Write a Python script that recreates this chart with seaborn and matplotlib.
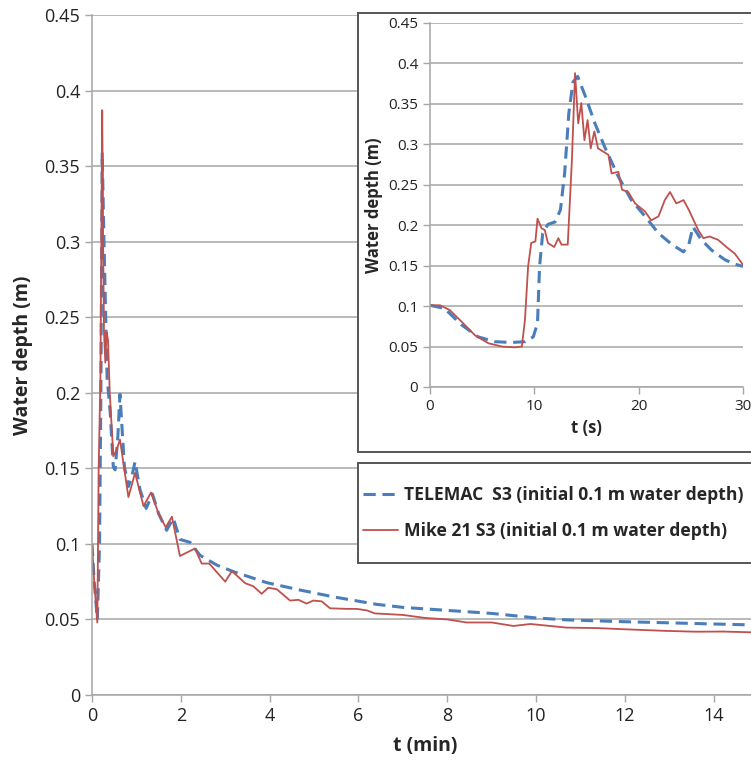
import matplotlib
matplotlib.use("Agg")
import matplotlib.pyplot as plt
import seaborn as sns
import pandas as pd
from matplotlib.patches import Rectangle
from matplotlib.lines import Line2D

# main chart, time in minutes
mike_t = [0, 0.05, 0.12, 0.15, 0.17, 0.19, 0.23, 0.25, 0.27, 0.3, 0.33, 0.36, 0.4, 0.48, 0.55,
          0.63, 0.82, 0.97, 1.16, 1.33, 1.5, 1.66, 1.8, 1.98, 2.32, 2.47, 2.64, 3.0, 3.15, 3.45,
          3.63, 3.82, 3.97, 4.16, 4.46, 4.65, 4.83, 4.98, 5.17, 5.36, 5.73, 5.96, 6.19, 6.37, 7.0,
          7.5, 8.0, 8.44, 9.0, 9.49, 9.87, 10.69, 11.36, 12.0, 12.86, 13.6, 14.2, 14.85]
mike_h = [0.1, 0.075, 0.048, 0.15, 0.18, 0.21, 0.387, 0.3, 0.24, 0.22, 0.24, 0.235, 0.2, 0.158, 0.162,
          0.169, 0.131, 0.147, 0.125, 0.134, 0.12, 0.111, 0.118, 0.092, 0.097, 0.087, 0.087, 0.075, 0.082, 0.074,
          0.072, 0.067, 0.071, 0.070, 0.0625, 0.063, 0.0605, 0.0625, 0.062, 0.0574, 0.057, 0.057, 0.056, 0.054, 0.053,
          0.051, 0.050, 0.048, 0.048, 0.0457, 0.047, 0.0446, 0.0443, 0.0435, 0.0425, 0.0419, 0.042, 0.0415]

tele_t = [0, 0.05, 0.12, 0.17, 0.2, 0.23, 0.27, 0.34, 0.41, 0.48, 0.52, 0.58, 0.63, 0.73, 0.82,
          0.9, 0.97, 1.08, 1.22, 1.36, 1.5, 1.68, 1.83, 1.98, 2.21, 2.43, 2.81, 3.18, 3.93, 4.68,
          5.43, 6.41, 7.0, 8.0, 9.0, 10.0, 10.7, 12.0, 12.7, 14.0, 14.85]
tele_h = [0.1, 0.075, 0.05, 0.1, 0.2, 0.359, 0.3, 0.21, 0.187, 0.151, 0.149, 0.17, 0.199, 0.151, 0.138,
          0.145, 0.1545, 0.136, 0.1235, 0.133, 0.12, 0.109, 0.117, 0.103, 0.101, 0.0925, 0.086, 0.0817, 0.0744, 0.0695,
          0.065, 0.060, 0.058, 0.056, 0.054, 0.051, 0.0497, 0.0485, 0.048, 0.047, 0.0464]

# inset, first 30 seconds
ins_mike_t = [0, 0.96, 1.9, 3.0, 4.3, 5.6, 6.9, 8.1, 8.8, 9.1, 9.4, 9.7, 10.1, 10.3, 10.7, 11.0, 11.3,
              11.9, 12.3, 12.6, 13.2, 13.6, 13.9, 14.2, 14.5, 14.8, 15.1, 15.4, 15.75, 16.1, 17.1, 17.4,
              18.05, 18.4, 19.0, 19.65, 20.6, 21.2, 21.9, 22.5, 23.0, 23.6, 24.3, 24.8, 25.7, 26.2, 26.8,
              27.6, 28.6, 29.2, 30.0]
ins_mike_h = [0.101, 0.101, 0.095, 0.081, 0.064, 0.054, 0.050, 0.049, 0.050, 0.083, 0.149, 0.178, 0.180, 0.208, 0.196, 0.194, 0.178,
              0.173, 0.184, 0.176, 0.176, 0.281, 0.388, 0.326, 0.351, 0.305, 0.330, 0.295, 0.316, 0.295, 0.287, 0.264,
              0.266, 0.244, 0.241, 0.227, 0.217, 0.206, 0.211, 0.231, 0.241, 0.227, 0.231, 0.219, 0.194, 0.184, 0.186,
              0.182, 0.171, 0.165, 0.151]

ins_tele_t = [0, 1.4, 3.0, 4.6, 6.2, 7.8, 9.1, 9.9, 10.3, 10.5, 10.8, 11.3, 11.98, 12.5, 12.9, 13.3, 13.7,
              14.15, 14.9, 15.8, 16.8, 18.05, 19.3, 20.6, 21.9, 23.2, 24.3, 24.8, 25.2, 26.0, 27.0, 28.3,
              29.2, 30.0]
ins_tele_h = [0.101, 0.097, 0.077, 0.062, 0.056, 0.055, 0.056, 0.062, 0.079, 0.149, 0.190, 0.201, 0.204, 0.219, 0.264, 0.338, 0.377,
              0.384, 0.359, 0.326, 0.295, 0.260, 0.231, 0.211, 0.190, 0.176, 0.167, 0.176, 0.198, 0.182, 0.169, 0.157,
              0.152, 0.149]

label_tele = "TELEMAC  S3 (initial 0.1 m water depth)"
label_mike = "Mike 21 S3 (initial 0.1 m water depth)"

blue = "#4a7ebb"
red = "#c0504d"
grid_c = "#a6a6a6"

sns.set_style("white")
plt.rcParams['font.family'] = ['Open Sans', 'DejaVu Sans']

fig = plt.figure(figsize=(7.51, 7.64), dpi=100)


def style_axes(ax, tick_size):
    ax.set_ylim(0, 0.45)
    ax.set_yticks([0, 0.05, 0.1, 0.15, 0.2, 0.25, 0.3, 0.35, 0.4, 0.45])
    ax.set_yticklabels(["0", "0.05", "0.1", "0.15", "0.2", "0.25", "0.3", "0.35", "0.4", "0.45"])
    ax.yaxis.grid(True, color=grid_c, linewidth=1.1)
    ax.xaxis.grid(False)
    for s in ["top", "right"]:
        ax.spines[s].set_visible(False)
    for s in ["left", "bottom"]:
        ax.spines[s].set_color(grid_c)
        ax.spines[s].set_linewidth(1.1)
    ax.tick_params(axis="both", direction="out", length=5, width=1, color=grid_c,
                   labelsize=tick_size, labelcolor="#222222", left=True, bottom=True)
    ax.set_axisbelow(True)


# main axes
ax = fig.add_axes([0.1225, 0.0903, 0.887, 0.890])
df_tele = pd.DataFrame({"t": tele_t, "h": tele_h})
df_mike = pd.DataFrame({"t": mike_t, "h": mike_h})
sns.lineplot(data=df_tele, x="t", y="h", ax=ax, color=blue, linewidth=2.2, sort=False,
             estimator=None, linestyle=(0, (4, 2.2)))
sns.lineplot(data=df_mike, x="t", y="h", ax=ax, color=red, linewidth=1.3, sort=False, estimator=None)
ax.set_xlim(0, 15)
ax.set_xticks([0, 2, 4, 6, 8, 10, 12, 14])
style_axes(ax, 13)
ax.set_xlabel("t (min)", fontsize=14, fontweight="bold", labelpad=8)
ax.set_ylabel("Water depth (m)", fontsize=14, fontweight="bold", labelpad=8)

# inset frame and legend frame
fig.patches.append(Rectangle((0.4767, 0.4084), 0.6, 0.5746, transform=fig.transFigure,
                             facecolor="white", edgecolor="#555555", linewidth=1.4, zorder=2))
fig.patches.append(Rectangle((0.4767, 0.2631), 0.6, 0.1309, transform=fig.transFigure,
                             facecolor="white", edgecolor="#555555", linewidth=1.4, zorder=2))

# inset axes
axi = fig.add_axes([0.5726, 0.4935, 0.4168, 0.4764])
axi.set_zorder(3)
df_itele = pd.DataFrame({"t": ins_tele_t, "h": ins_tele_h})
df_imike = pd.DataFrame({"t": ins_mike_t, "h": ins_mike_h})
sns.lineplot(data=df_itele, x="t", y="h", ax=axi, color=blue, linewidth=2.2, sort=False,
             estimator=None, linestyle=(0, (4, 2.2)))
sns.lineplot(data=df_imike, x="t", y="h", ax=axi, color=red, linewidth=1.3, sort=False, estimator=None)
axi.set_xlim(0, 30)
axi.set_xticks([0, 10, 20, 30])
style_axes(axi, 11)
axi.patch.set_alpha(0)
axi.set_xlabel("t (s)", fontsize=12, fontweight="bold", labelpad=4)
axi.set_ylabel("Water depth (m)", fontsize=12, fontweight="bold", labelpad=4)

handles = [Line2D([], [], color=blue, linewidth=2.2, linestyle=(0, (4, 2.2))),
           Line2D([], [], color=red, linewidth=1.3)]
leg = fig.legend(handles, [label_tele, label_mike], loc="center left",
                 bbox_to_anchor=(0.484, 0.3285), frameon=False,
                 prop={"weight": "bold", "size": 12.6}, handlelength=2.0, handletextpad=0.3,
                 labelspacing=1.0, borderpad=0, borderaxespad=0)
leg.set_zorder(5)

fig.savefig("out.png", dpi=100)
